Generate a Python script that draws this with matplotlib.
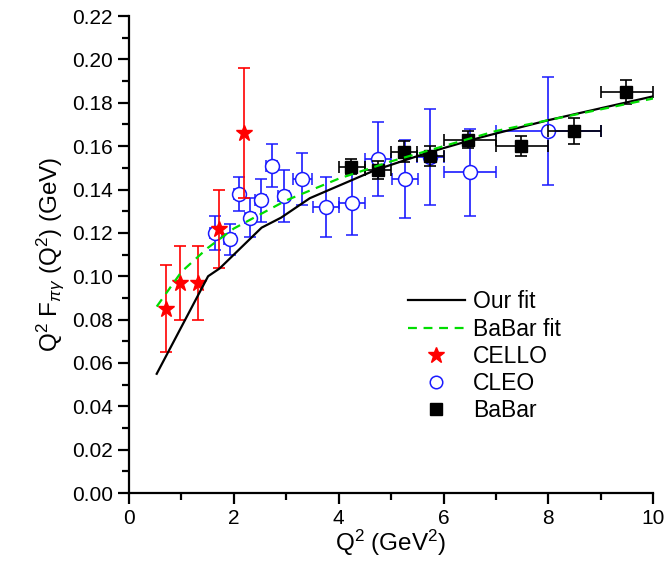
import matplotlib.pyplot as plt
from matplotlib.lines import Line2D
import numpy as np

plt.rcParams['font.family'] = ['Liberation Sans', 'DejaVu Sans']
plt.rcParams['mathtext.fontset'] = 'custom'
plt.rcParams['mathtext.rm'] = 'Liberation Sans'
plt.rcParams['mathtext.it'] = 'Liberation Sans:italic'

# our fit
fit_q2 = [0.53, 1.51, 1.73, 2.53, 2.90, 3.45, 4.70, 5.70, 6.70, 8.00, 10.0]
fit_val = [0.055, 0.100, 0.1036, 0.1224, 0.127, 0.136, 0.149, 0.157, 0.164, 0.172, 0.183]

# BaBar fit (dashed curve)
bfit_q2 = [0.53, 1.0, 1.5, 2.0, 3.0, 4.0, 5.0, 6.0, 7.0, 8.0, 9.0, 10.0]
bfit_val = [0.086, 0.102, 0.113, 0.122, 0.135, 0.145, 0.153, 0.160, 0.167, 0.172, 0.177, 0.182]

# CELLO
cello_q2 = [0.70, 0.97, 1.31, 1.71, 2.19]
cello_val = [0.085, 0.097, 0.097, 0.122, 0.166]
cello_err = [0.020, 0.017, 0.017, 0.018, 0.030]

# CLEO
cleo_q2 = [1.64, 1.92, 2.10, 2.31, 2.51, 2.72, 2.95, 3.31, 3.76, 4.26, 4.75, 5.26, 5.75, 6.50, 8.00]
cleo_val = [0.120, 0.117, 0.138, 0.127, 0.135, 0.151, 0.137, 0.145, 0.132, 0.134, 0.154, 0.145, 0.155, 0.148, 0.167]
cleo_err = [0.008, 0.007, 0.008, 0.009, 0.010, 0.010, 0.012, 0.012, 0.014, 0.015, 0.017, 0.018, 0.022, 0.020, 0.025]
cleo_xerr = [0.10, 0.10, 0.10, 0.10, 0.10, 0.10, 0.10, 0.19, 0.25, 0.25, 0.25, 0.25, 0.25, 0.50, 1.00]

# BaBar
babar_q2 = [4.24, 4.75, 5.24, 5.74, 6.46, 7.47, 8.48, 9.47]
babar_val = [0.1505, 0.149, 0.1575, 0.1555, 0.163, 0.160, 0.167, 0.185]
babar_err = [0.0035, 0.004, 0.005, 0.0045, 0.004, 0.0045, 0.006, 0.0055]
babar_xlo = [0.24, 0.25, 0.24, 0.24, 0.46, 0.47, 0.48, 0.47]
babar_xhi = [0.26, 0.25, 0.26, 0.26, 0.54, 0.53, 0.52, 0.53]

blue = '#1a1aff'
green = '#00dd00'

fig = plt.figure(figsize=(6.68, 5.75), dpi=100)
ax = fig.add_axes([0.193, 0.1426, 0.785, 0.8294])

ax.plot(fit_q2, fit_val, color='black', lw=1.6, zorder=5)
ax.plot(bfit_q2, bfit_val, color=green, lw=1.6, ls=(0, (4, 3)), zorder=6)

ax.errorbar(cello_q2, cello_val, yerr=cello_err, fmt='*', color='red', ms=12,
            elinewidth=1.2, capsize=4, capthick=1.2, zorder=4)
ax.errorbar(cleo_q2, cleo_val, yerr=cleo_err, xerr=cleo_xerr, fmt='o', color=blue,
            mfc='white', mec=blue, ms=10, mew=1.1, elinewidth=1.2, capsize=4,
            capthick=1.2, zorder=3)
ax.errorbar(babar_q2, babar_val, yerr=babar_err, xerr=[babar_xlo, babar_xhi], fmt='s',
            color='black', ms=8, elinewidth=1.2, capsize=4, capthick=1.2, zorder=4)

ax.set_xlim(0, 10)
ax.set_ylim(0, 0.22)
ax.set_xticks(np.arange(0, 11, 2))
ax.set_xticks(np.arange(0, 11, 1), minor=True)
ax.set_yticks(np.arange(0, 0.2201, 0.02))
ax.set_yticks(np.arange(0, 0.2201, 0.01), minor=True)
ax.yaxis.set_major_formatter(plt.FormatStrFormatter('%.2f'))

for s in ['top', 'right']:
    ax.spines[s].set_visible(False)
for s in ['left', 'bottom']:
    ax.spines[s].set_linewidth(1.6)
ax.tick_params(which='major', direction='out', length=8, width=1.6, labelsize=15)
ax.tick_params(which='minor', direction='out', length=5, width=1.6)

ax.set_xlabel(r'Q$^2$ (GeV$^2$)', fontsize=17.5, labelpad=0)
ax.set_ylabel(r'Q$^2$ F$_{\pi\gamma}$ (Q$^2$) (GeV)', fontsize=17.5, labelpad=4)

handles = [
    Line2D([], [], color='black', lw=1.6),
    Line2D([], [], color=green, lw=1.6, ls=(0, (4, 3))),
    Line2D([], [], color='red', marker='*', ls='none', ms=12),
    Line2D([], [], color=blue, marker='o', ls='none', ms=9, mfc='white', mew=1.1),
    Line2D([], [], color='black', marker='s', ls='none', ms=8),
]
labels = ['Our fit', 'BaBar fit', 'CELLO', 'CLEO', 'BaBar']
ax.legend(handles, labels, loc='upper left', bbox_to_anchor=(0.492, 0.468),
          frameon=False, fontsize=16.5, handlelength=2.5, labelspacing=0.18,
          handletextpad=0.35)

fig.savefig('out.png', dpi=100)
